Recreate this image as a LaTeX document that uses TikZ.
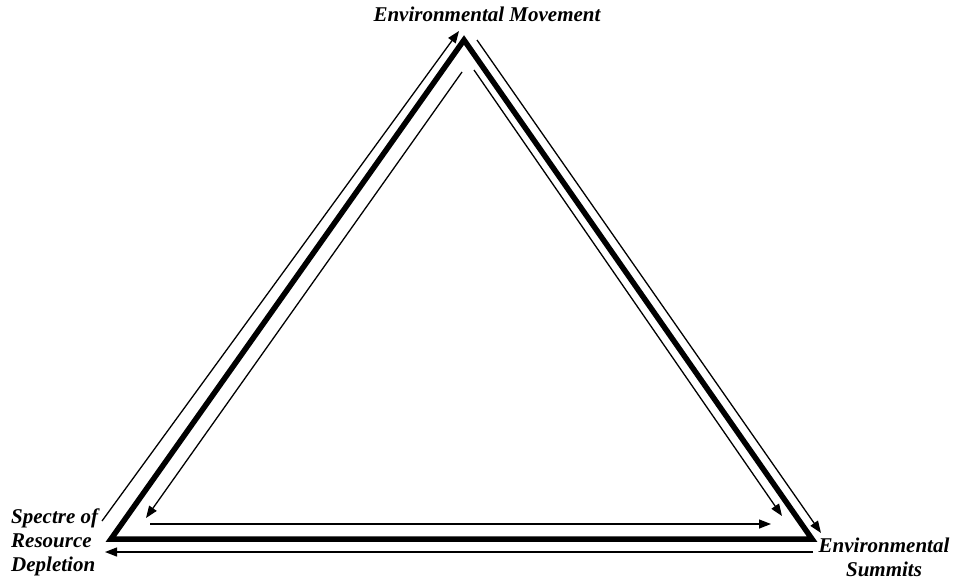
\documentclass[tikz,border=0pt]{standalone}
\usepackage{fontspec}
\setmainfont{Liberation Serif}
\usepackage{tikz}
\usetikzlibrary{arrows.meta}

\begin{document}
\begin{tikzpicture}[
    x=1pt,y=-1pt,
    lbl/.style={font=\fontsize{21}{24}\selectfont\bfseries\itshape,inner sep=0pt},
    side/.style={line width=5.5pt,line join=miter},
    arr/.style={-{Triangle[length=12pt,width=9pt]},line width=1.3pt}
  ]
    \useasboundingbox (0,0) rectangle (958,579);

    % corners of the triangle
    \coordinate (mov) at (464,40);
    \coordinate (dep) at (111,539);
    \coordinate (sum) at (812,539);

    \draw[side] (mov) -- (dep) -- (sum) -- cycle;

    % ends of the arrows
    \coordinate (ol1) at (102,521);
    \coordinate (ol2) at (459,31);
    \coordinate (or1) at (477,40);
    \coordinate (or2) at (821,533);
    \coordinate (il1) at (462,72);
    \coordinate (il2) at (146,518);
    \coordinate (ir1) at (474,70);
    \coordinate (ir2) at (782,516);
    \coordinate (ib1) at (150,524);
    \coordinate (ib2) at (771,524);
    \coordinate (ob1) at (813,552);
    \coordinate (ob2) at (105,552);

    \draw[arr] (ol1) -- (ol2);
    \draw[arr] (or1) -- (or2);
    \draw[arr] (il1) -- (il2);
    \draw[arr] (ir1) -- (ir2);
    \draw[arr] (ib1) -- (ib2);
    \draw[arr] (ob1) -- (ob2);

    \node[lbl] (movlbl) at (487,14) {Environmental Movement};
    \node[lbl,align=left,anchor=west] (deplbl) at (11,542) {Spectre of\\Resource\\Depletion};
    \node[lbl,align=center] (sumlbl) at (884,557) {Environmental\\Summits};
  \end{tikzpicture}
\end{document}
